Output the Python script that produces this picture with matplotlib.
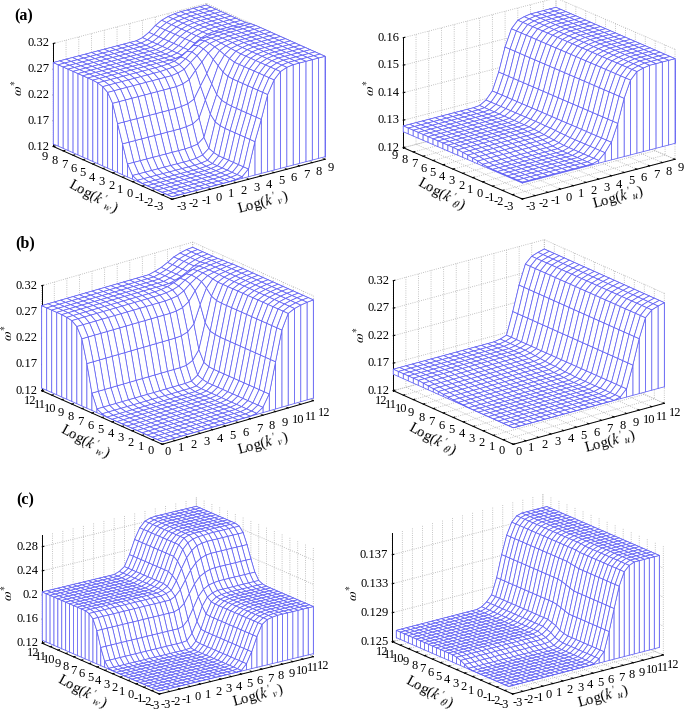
#!/usr/bin/env python3
"""Six meshz-style surfaces of the critical frequency against stiffness ratios."""
import numpy as np
import matplotlib
matplotlib.use('Agg')
import matplotlib.pyplot as plt

W_PX, H_PX = 685, 711
MESH = '#6262f4'

plt.rcParams['font.family'] = ['Liberation Serif', 'DejaVu Serif']
plt.rcParams['mathtext.fontset'] = 'stix'
plt.rcParams['font.size'] = 9
plt.rcParams['grid.color'] = '#b0b0b0'
plt.rcParams['grid.linestyle'] = ':'
plt.rcParams['grid.linewidth'] = 0.6
plt.rcParams['axes.linewidth'] = 0.7

# axis values, half-decade grid
AXIS_9 = np.arange(25) * 0.5 - 3
AXIS_12 = np.arange(25) * 0.5
AXIS_15 = np.arange(31) * 0.5 - 3
AXIS_15_INSET = np.arange(29) * 0.5 - 2.5

# (a) left, rows run along k_v, one row per k_w
A1_LOW = [.125]*10 + [.126, .128, .140, .190, .230, .275, .300, .313, .318] + [.320]*6
A1_ROWS = [A1_LOW]*7 + [
    [.127]*10 + [.128, .130, .142, .191, .231, .275, .300, .313, .318] + [.320]*6,
    [.132]*10 + [.133, .136, .146, .194, .233, .276, .300, .313, .318] + [.320]*6,
    [.150]*10 + [.151, .153, .163, .205, .240, .280, .303, .314, .318] + [.320]*6,
    [.185]*10 + [.186, .188, .196, .228, .256, .288, .306, .315, .318] + [.320]*6,
    [.220]*10 + [.221, .223, .229, .251, .272, .296, .310, .316, .319] + [.320]*6,
    [.255]*10 + [.255, .257, .262, .277, .290, .304, .313, .317, .319] + [.320]*6,
    [.272]*10 + [.272, .274, .278, .288, .298, .308, .315, .318, .319] + [.320]*6,
    [.279]*10 + [.280, .281, .283, .291, .301, .310, .316, .318, .319] + [.320]*6,
    [.282]*10 + [.282, .283, .285, .290, .298, .306, .313, .316, .318] + [.319]*6,
] + [[.283]*14 + [.286, .293, .303, .310, .314, .316] + [.317]*5]*9

# (a) right
A2_TAIL = [.1322, .1385, .1470, .1530, .1555, .1562] + [.1566]*5
A2_ROWS = [[.1261]*12 + [.1268, .1290] + A2_TAIL]*7 + [
    [.1262]*12 + [.1268, .1290] + A2_TAIL,
    [.1264]*12 + [.1270, .1291] + A2_TAIL,
    [.1268]*12 + [.1272, .1292] + A2_TAIL,
    [.1271]*12 + [.1274, .1293] + A2_TAIL,
    [.1274]*12 + [.1276, .1294] + A2_TAIL,
    [.1276]*12 + [.1278, .1294] + A2_TAIL,
    [.1278]*12 + [.1280, .1295] + A2_TAIL,
] + [[.1279]*12 + [.1281, .1295] + A2_TAIL]*11

# (b) left
B1_ROWS = [[.125]*15 + [.127, .135, .157, .215, .272, .300, .306, .309, .311, .312]]*12 + [
    [.127]*15 + [.128, .137, .158, .216, .272, .300, .306, .309, .311, .312],
    [.132]*15 + [.133, .141, .162, .218, .273, .300, .306, .309, .311, .312],
    [.158]*15 + [.159, .165, .182, .230, .277, .300, .306, .309, .311, .312],
    [.210]*15 + [.211, .215, .227, .260, .288, .302, .307, .309, .311, .312],
    [.253]*15 + [.254, .257, .265, .282, .296, .304, .307, .309, .311, .312],
    [.272]*15 + [.273, .275, .281, .291, .299, .305, .307, .309, .310, .311],
    [.279]*15 + [.280, .282, .286, .294, .300, .305, .307, .309, .310, .311],
    [.281]*15 + [.282, .284, .288, .293, .298, .303, .306, .308, .310, .310],
] + [[.282]*17 + [.282, .285, .289, .295, .302, .306, .309, .310]]*5

# (b) right
B2_TAIL = [.165, .205, .250, .285, .296, .300, .303]
B2_ROWS = [[.150]*17 + [.153] + B2_TAIL]*10 + [
    [.151]*17 + [.154] + B2_TAIL,
    [.1515]*17 + [.154] + B2_TAIL,
    [.152]*17 + [.155] + B2_TAIL,
    [.153]*17 + [.156] + B2_TAIL,
    [.154]*17 + [.156] + B2_TAIL,
    [.155]*17 + [.157] + B2_TAIL,
    [.156]*17 + [.158] + B2_TAIL,
    [.157]*17 + [.159] + B2_TAIL,
    [.158]*17 + [.160] + B2_TAIL,
] + [[.159]*17 + [.161] + B2_TAIL]*6

# (c) left
C1_ROWS = [[.125]*16 + [.126, .135, .153, .176, .194, .200, .202, .203] + [.203]*7]*13 + [
    [.126]*16 + [.127, .136, .154, .177, .195, .201, .203, .204] + [.204]*7,
    [.135]*16 + [.136, .146, .164, .187, .200, .205, .207, .207] + [.207]*7,
    [.155]*16 + [.157, .166, .183, .200, .210, .215, .217, .218] + [.218]*7,
    [.180]*16 + [.183, .190, .204, .218, .228, .233, .236, .237] + [.237]*7,
    [.197]*16 + [.201, .210, .224, .238, .248, .254, .257, .258] + [.258]*7,
    [.203]*15 + [.205, .208, .222, .240, .256, .266, .272, .274, .275] + [.275]*7,
    [.205]*15 + [.207, .212, .228, .250, .267, .276, .280, .282, .282] + [.283]*7,
] + [[.205]*15 + [.208, .214, .232, .255, .272, .281, .284, .285, .285] + [.285]*7]*11

# (c) right
C2_ROWS = [[.1258]*17 + [.1259, .1264, .1272, .1298, .1328, .1357, .1375, .1382] + [.1385]*6]*10 + [
    [.1259]*17 + [.1260, .1265, .1273, .1298, .1328, .1357, .1375, .1382] + [.1385]*6,
    [.1262]*17 + [.1263, .1267, .1275, .1300, .1330, .1358, .1375, .1382] + [.1385]*6,
    [.1265]*17 + [.1266, .1271, .1279, .1302, .1332, .1359, .1376, .1383] + [.1385]*6,
    [.1267]*17 + [.1268, .1273, .1281, .1304, .1334, .1360, .1376, .1383] + [.1385]*6,
] + [[.1268]*17 + [.1270, .1275, .1283, .1305, .1335, .1360, .1376, .1383] + [.1385]*6]*15

TICKS_9 = list(range(-3, 10))
TICKS_12 = list(range(0, 13))
TICKS_15 = list(range(-3, 13))

Z_A1 = [0.12, 0.17, 0.22, 0.27, 0.32]
Z_A2 = [0.12, 0.13, 0.14, 0.15, 0.16]
Z_C1 = [0.12, 0.16, 0.2, 0.24, 0.28]
Z_C2 = [0.125, 0.129, 0.133, 0.137]

# L, F, R: pixel corners of the box; xt, yt: first and last tick label centres
PANELS = [
    dict(x=AXIS_9, y=AXIS_9, rows=A1_ROWS, floor=.125, lim=(-3, 9), ticks=TICKS_9,
         zlim=(.12, .32), zt=Z_A1, L=(53.3, 146.5), F=(172, 199.3), R=(325, 159.3), zh=103,
         xt=((181.7, 207.3), (330.7, 168.3)), yt=((158.3, 206.7), (45, 156.7)),
         xlab=("Log($k'_{v}$)", 263, 202), ylab=("Log($k'_{w}$)", 93, 196), zlab=(18, 88)),
    dict(x=AXIS_9, y=AXIS_9, rows=A2_ROWS, floor=.1258, lim=(-3, 9), ticks=TICKS_9,
         zlim=(.12, .16), zt=Z_A2, L=(403.3, 147.7), F=(522.3, 199), R=(675, 159.3), zh=110,
         xt=((531, 207.3), (681, 168.3)), yt=((508.3, 206.7), (395, 156)),
         xlab=("Log($k'_{u}$)", 618, 197), ylab=("Log($k'_{\\theta}$)", 442, 193), zlab=(370, 88)),
    dict(x=AXIS_12, y=AXIS_12, rows=B1_ROWS, floor=.125, lim=(0, 12), ticks=TICKS_12,
         zlim=(.12, .32), zt=Z_A1, L=(41.7, 390.7), F=(162.3, 444.3), R=(313.3, 400.7), zh=105,
         xt=((167.7, 451.7), (324, 413.3)), yt=((151, 451), (30, 400.7)),
         xlab=("Log($k'_{v}$)", 263, 443), ylab=("Log($k'_{w}$)", 85, 441), zlab=(8, 333)),
    dict(x=AXIS_12, y=AXIS_12, rows=B2_ROWS, floor=.150, lim=(0, 12), ticks=TICKS_12,
         zlim=(.12, .32), zt=Z_A1, L=(393.3, 390.7), F=(513.3, 444.3), R=(664.3, 403.3), zh=110,
         xt=((518.3, 451.7), (675, 413.3)), yt=((501.7, 451), (381, 401)),
         xlab=("Log($k'_{u}$)", 610, 441), ylab=("Log($k'_{\\theta}$)", 433, 438), zlab=(360, 335)),
    dict(x=AXIS_15, y=AXIS_15, rows=C1_ROWS, floor=.125, lim=(-3, 12), ticks=TICKS_15,
         zlim=(.12, .30), zt=Z_C1, L=(42.3, 643.3), F=(159.3, 694), R=(313.3, 656.7), zh=108.7,
         xt=((165.7, 705), (323, 665.7)), yt=((155, 705.7), (33, 653)),
         xlab=("Log($k'_{v}$)", 258, 695), ylab=("Log($k'_{w}$)", 82, 691), zlab=(8, 593)),
    dict(x=AXIS_15, y=AXIS_15_INSET, rows=C2_ROWS, floor=.1258, lim=(-3, 12), ticks=TICKS_15,
         zlim=(.125, .14), zt=Z_C2, L=(392.3, 641.7), F=(512.7, 694), R=(663.3, 655), zh=108.7,
         xt=((518, 702.7), (673, 665)), yt=((504, 705), (381.7, 651.7)),
         xlab=("Log($k'_{u}$)", 603, 696), ylab=("Log($k'_{\\theta}$)", 430, 691), zlab=(353, 593)),
]

LETTERS = [('(a)', 24, 16), ('(b)', 25, 243), ('(c)', 25, 500)]


def place(fig, p):
    # work view angles and box shape back from where the box corners sit in pixels
    (lx, ly), (fx, fy), (rx, ry) = p['L'], p['F'], p['R']
    dx, dyx = rx - fx, fy - ry
    dxy, dyy = fx - lx, fy - ly
    sin_e = np.sqrt(dyx / dx * dyy / dxy)
    theta = np.arctan(np.sqrt((dyx / dx) / (dyy / dxy)))
    box = np.array([dx / np.cos(theta), dxy / np.sin(theta), p['zh'] / np.sqrt(1 - sin_e**2)])
    w = np.linalg.norm(box) * 1.85 / (1.8294640721620434 * 25 / 24)
    cx = fx + (dx - dxy) / 2
    cy = fy - (dyx + dyy + p['zh']) / 2
    left = cx - 0.95 / 1.85 * w
    bottom = H_PX - (cy + 0.95 / 1.85 * w)
    ax = fig.add_axes([left / W_PX, bottom / H_PX, w / W_PX, w / H_PX], projection='3d')
    ax.set_proj_type('ortho')
    ax.view_init(elev=np.degrees(np.arcsin(sin_e)), azim=-90 - np.degrees(theta))
    ax.set_box_aspect(box)
    return ax


def meshz(ax, x, y, rows, floor):
    X, Y = np.meshgrid(x, y)
    Z = np.array(rows)
    # curtain: one extra ring of points dropped to the floor
    X = np.pad(X, 1, mode='edge')
    Y = np.pad(Y, 1, mode='edge')
    Z = np.pad(Z, 1, mode='constant', constant_values=floor)
    ax.plot_surface(X, Y, Z, rstride=1, cstride=1, color='white', edgecolor=MESH,
                    linewidth=0.55, shade=False, antialiased=True)


def pixel_text(fig, px, py, s, **kw):
    return fig.text(px / W_PX, 1 - py / H_PX, s, **kw)


def tick_labels(fig, p):
    lo, hi = p['lim']
    for t in p['ticks']:
        f = (t - lo) / (hi - lo)
        for (x0, y0), (x1, y1) in (p['xt'], p['yt']):
            pixel_text(fig, x0 + f * (x1 - x0), y0 + f * (y1 - y0), str(t), ha='center', va='center')
    lx, ly = p['L']
    zlo, zhi = p['zlim']
    for t in p['zt']:
        f = (t - zlo) / (zhi - zlo)
        pixel_text(fig, lx - 4, ly - f * p['zh'], str(t), ha='right', va='center')


def main():
    fig = plt.figure(figsize=(W_PX / 100, H_PX / 100), dpi=100)
    for p in PANELS:
        ax = place(fig, p)
        ax.patch.set_visible(False)
        meshz(ax, p['x'], p['y'], p['rows'], p['floor'])
        ax.set_xlim(*p['lim'], view_margin=0)
        ax.set_ylim(*p['lim'], view_margin=0)
        ax.set_zlim(*p['zlim'], view_margin=0)
        ax.set_xticks(p['ticks'], labels=[])
        ax.set_yticks(p['ticks'], labels=[])
        ax.set_zticks(p['zt'], labels=[])
        for axis in (ax.xaxis, ax.yaxis, ax.zaxis):
            axis.pane.set_visible(False)
            axis.line.set_linewidth(0.7)
            axis.line.set_color('black')
            axis._axinfo['tick']['inward_factor'] = 0.0
            axis._axinfo['tick']['outward_factor'] = 0.12
        ax.tick_params(axis='both', length=2, width=0.6)
        tick_labels(fig, p)
        text, px, py = p['xlab']
        pixel_text(fig, px, py, text, rotation=15, ha='center', va='center', fontsize=10.5)
        text, px, py = p['ylab']
        pixel_text(fig, px, py, text, rotation=-29, ha='center', va='center', fontsize=10.5)
        px, py = p['zlab']
        pixel_text(fig, px, py, r'$\omega^{*}$', rotation=90, ha='center', va='center', fontsize=10)
    for text, px, py in LETTERS:
        pixel_text(fig, px, py, text, ha='center', va='center', fontsize=11.5, fontweight='bold')
    fig.savefig('out.png', dpi=100, facecolor='white')
    plt.close(fig)


if __name__ == '__main__':
    main()
